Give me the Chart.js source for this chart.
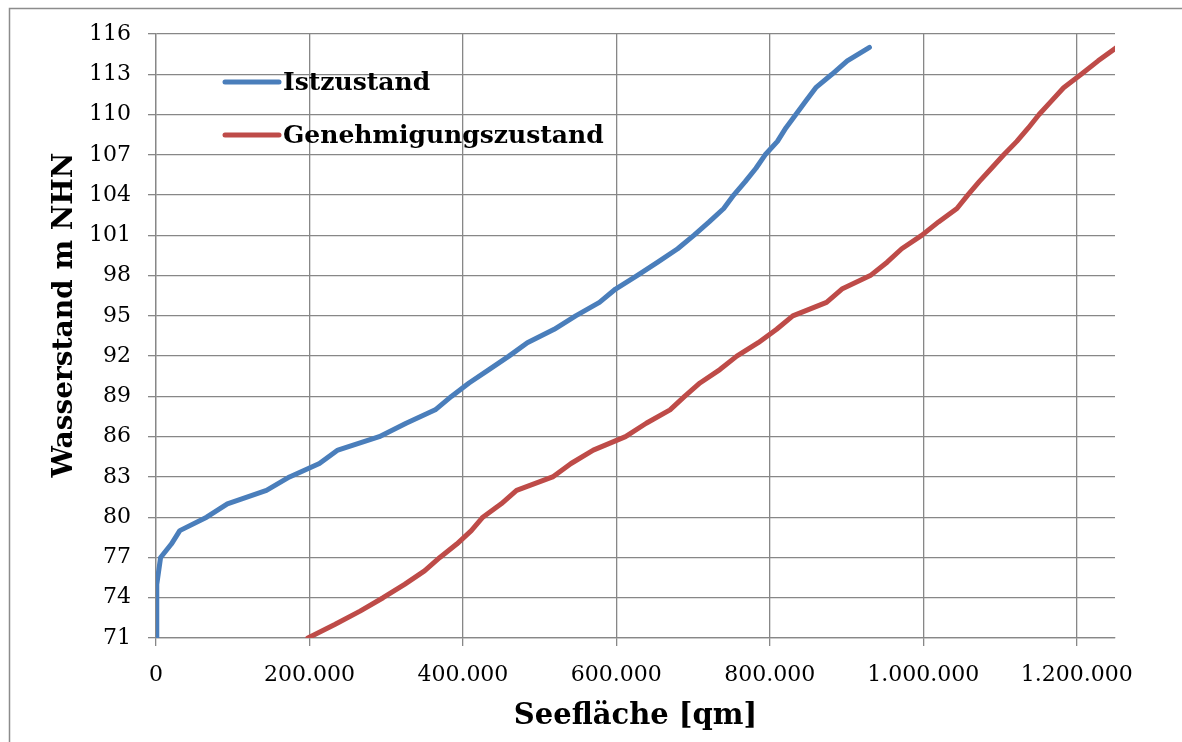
<!DOCTYPE html>
<html>
<head>
<meta charset="utf-8">
<title>Seefläche</title>
<script src="https://cdn.jsdelivr.net/npm/chart.js@4.4.1/dist/chart.umd.min.js"></script>
<style>
	body { margin: 0; background: #fff; }
	#wrap { width: 1182px; height: 742px; }
</style>
</head>
<body>
<div id="wrap"><canvas id="myChart" width="1182" height="742"></canvas></div>
<script>
// Istzustand
var istLevel = [71, 75, 77, 78, 79, 80, 81, 82, 83, 84, 85, 86, 87, 88, 89, 90, 91, 92, 93, 94, 95, 96, 97, 98, 99, 100, 101, 102, 103, 104, 105, 106, 107, 108, 109, 110, 111, 112, 113, 114, 115];
var istArea = [0, 1000, 6000, 20000, 31000, 66000, 93000, 144000, 174000, 213000, 237000, 291000, 326000, 364000, 385000, 408000, 434000, 460000, 484000, 519000, 547000, 578000, 599000, 627000, 654000, 680000, 701000, 721000, 740000, 753000, 768000, 782000, 794000, 810000, 821000, 834000, 847000, 860000, 881000, 901000, 930000];

// Genehmigungszustand
var genLevel = [71, 72, 73, 74, 75, 76, 77, 78, 79, 80, 81, 82, 83, 84, 85, 86, 87, 88, 89, 90, 91, 92, 93, 94, 95, 96, 97, 98, 99, 100, 101, 102, 103, 104, 105, 106, 107, 108, 109, 110, 111, 112, 113, 114, 115];
var genArea = [198000, 233000, 266000, 296000, 324000, 350000, 370000, 392000, 411000, 426000, 450000, 470000, 517000, 541000, 570000, 612000, 639000, 670000, 689000, 709000, 735000, 757000, 785000, 809000, 830000, 874000, 894000, 931000, 953000, 972000, 998000, 1020000, 1044000, 1058000, 1073000, 1089000, 1105000, 1122000, 1137000, 1151000, 1167000, 1183000, 1206000, 1228000, 1252000];

var seriesNames = ["Istzustand", "Genehmigungszustand"];
var xTicks = [0, 200000, 400000, 600000, 800000, 1000000, 1200000];
var xTitle = "Seefläche [qm]";
var yTitle = "Wasserstand m NHN";

function toPoints(xs, ys) {
	var out = [];
	for (var i = 0; i < xs.length; i++) {
		out.push({ x: xs[i], y: ys[i] });
	}
	return out;
}

function formatDe(v) {
	return String(v).replace(/\B(?=(\d{3})+(?!\d))/g, ".");
}

var gridColor = '#878787';

// legend inside the plot, y title and outer frame
var extras = {
	id: 'extras',
	afterDraw: function(chart) {
		var ctx = chart.ctx;
		var area = chart.chartArea;
		ctx.save();

		ctx.strokeStyle = '#8c8c8c';
		ctx.lineWidth = 1.5;
		ctx.beginPath();
		ctx.moveTo(9.5, 742);
		ctx.lineTo(9.5, 8.5);
		ctx.lineTo(1182, 8.5);
		ctx.stroke();

		ctx.font = 'bold 25px "DejaVu Serif"';
		ctx.textBaseline = 'middle';
		ctx.textAlign = 'left';
		ctx.lineCap = 'round';
		var rows = [48, 101];
		chart.data.datasets.forEach(function(ds, i) {
			var y = area.top + rows[i];
			ctx.strokeStyle = ds.borderColor;
			ctx.lineWidth = 5;
			ctx.beginPath();
			ctx.moveTo(area.left + 69, y);
			ctx.lineTo(area.left + 123, y);
			ctx.stroke();
			ctx.fillStyle = '#000';
			ctx.fillText(ds.label, area.left + 127, y + 1);
		});

		ctx.translate(65, 315);
		ctx.rotate(-Math.PI / 2);
		ctx.textAlign = 'center';
		ctx.font = 'bold 28px "DejaVu Serif"';
		ctx.fillText(yTitle, 0, 0);
		ctx.restore();
	}
};

var ctx = document.getElementById('myChart').getContext('2d');
var myChart = new Chart(ctx, {
	type: 'line',
	data: {
		datasets: [{
			label: seriesNames[0],
			data: toPoints(istArea, istLevel),
			borderColor: '#4a7ebb',
			borderWidth: 5,
			pointRadius: 0,
			borderCapStyle: 'round',
			borderJoinStyle: 'round',
			fill: false
		}, {
			label: seriesNames[1],
			data: toPoints(genArea, genLevel),
			borderColor: '#be4b48',
			borderWidth: 5,
			pointRadius: 0,
			borderCapStyle: 'round',
			borderJoinStyle: 'round',
			fill: false
		}]
	},
	options: {
		responsive: false,
		animation: false,
		layout: { padding: { top: 34, right: 67, left: 0, bottom: 0 } },
		plugins: {
			legend: { display: false },
			tooltip: { enabled: false }
		},
		scales: {
			x: {
				type: 'linear',
				position: 'bottom',
				min: 0,
				max: 1250000,
				afterBuildTicks: function(scale) {
					scale.ticks = xTicks.map(function(v) { return { value: v }; });
				},
				afterFit: function(scale) { scale.height = 104; },
				grid: { color: gridColor, lineWidth: 1.3, tickLength: 8 },
				border: { color: gridColor, width: 1.3 },
				ticks: {
					autoSkip: false,
					maxRotation: 0,
					padding: 16,
					color: '#000',
					font: { family: 'DejaVu Serif', size: 22 },
					callback: function(v) { return formatDe(v); }
				},
				title: {
					display: true,
					text: xTitle,
					color: '#000',
					padding: { top: 0, bottom: 8 },
					font: { family: 'DejaVu Serif', size: 29, weight: 'bold' }
				}
			},
			y: {
				type: 'linear',
				min: 71,
				max: 116,
				afterFit: function(scale) { scale.width = 156; },
				grid: { color: gridColor, lineWidth: 1.3, tickLength: 8 },
				border: { color: gridColor, width: 1.3 },
				ticks: {
					stepSize: 3,
					padding: 17,
					color: '#000',
					font: { family: 'DejaVu Serif', size: 22 }
				}
			}
		}
	},
	plugins: [extras]
});
</script>
</body>
</html>
